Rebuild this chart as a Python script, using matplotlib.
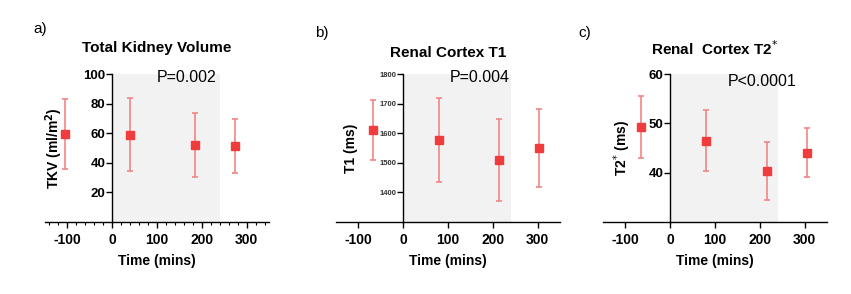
import matplotlib.pyplot as plt
from matplotlib.ticker import MultipleLocator

plt.rcParams['font.family'] = ['Liberation Sans', 'DejaVu Sans']
plt.rcParams['axes.unicode_minus'] = False

# panel a: total kidney volume
tkv_time = [-105, 40, 185, 275]
tkv_mean = [59.3, 59.0, 52.0, 51.3]
tkv_low = [35.6, 34.5, 30.7, 33.4]
tkv_high = [83.0, 83.7, 73.6, 69.6]

# panel b: renal cortex T1
t1_time = [-68, 79, 214, 304]
t1_mean = [1610, 1578, 1510, 1551]
t1_low = [1508, 1436, 1372, 1419]
t1_high = [1713, 1720, 1649, 1683]

# panel c: renal cortex T2*
t2_time = [-65, 81, 216, 306]
t2_mean = [49.3, 46.5, 40.4, 44.0]
t2_low = [43.0, 40.4, 34.5, 39.2]
t2_high = [55.6, 52.8, 46.2, 49.0]

panels = [
    dict(letter='a)', title='Total Kidney Volume', ylabel='TKV (ml/m$^\\mathbf{2}$)',
         pval='P=0.002', x=tkv_time, m=tkv_mean, lo=tkv_low, hi=tkv_high,
         ylim=(0, 100), yticks=[20, 40, 60, 80, 100], ytick_size=9.5, minor=True),
    dict(letter='b)', title='Renal Cortex T1', ylabel='T1 (ms)',
         pval='P=0.004', x=t1_time, m=t1_mean, lo=t1_low, hi=t1_high,
         ylim=(1300, 1800), yticks=[1400, 1500, 1600, 1700, 1800], ytick_size=5.5, minor=False),
    dict(letter='c)', title='Renal  Cortex T2$^{*}$', ylabel='T2$^{*}$ (ms)',
         pval='P<0.0001', x=t2_time, m=t2_mean, lo=t2_low, hi=t2_high,
         ylim=(30, 60), yticks=[40, 50, 60], ytick_size=9.5, minor=False),
]

lefts = [45 / 851, 336 / 851, 603 / 851]
letter_x = [33 / 851, 315 / 851, 578 / 851]
letter_y = [1 - 29 / 294, 1 - 33 / 294, 1 - 33 / 294]
ylabel_x = [0.09, 0.10, 0.135]
title_pad = [16, 12, 14]
pval_pos = [(0.5, 1.03), (0.507, 1.03), (0.558, 1.0)]

red = '#f03c3c'
err_red = '#f08585'

fig = plt.figure(figsize=(8.51, 2.94), dpi=100)

for i, p in enumerate(panels):
    ax = fig.add_axes([lefts[i], 72 / 294, 224 / 851, 148 / 294])
    ax.axvspan(0, 240, ymin=0, ymax=1, color='#f2f2f2', zorder=0, lw=0)
    yerr = [[m - lo for m, lo in zip(p['m'], p['lo'])],
            [hi - m for m, hi in zip(p['m'], p['hi'])]]
    ax.errorbar(p['x'], p['m'], yerr=yerr, fmt='none', ecolor=err_red,
                elinewidth=1.2, capsize=2.5, capthick=1.2, zorder=2)
    ax.plot(p['x'], p['m'], 's', color=red, ms=5.5, zorder=3)

    ax.set_xlim(-150, 350)
    ax.set_ylim(*p['ylim'])
    ax.set_xticks([-100, 0, 100, 200, 300])
    ax.set_yticks(p['yticks'])
    if p['minor']:
        ax.xaxis.set_minor_locator(MultipleLocator(20))
        ax.tick_params(axis='x', which='minor', length=2, width=0.8)

    for s in ['top', 'right']:
        ax.spines[s].set_visible(False)
    ax.spines['left'].set_position(('data', 0))
    ax.spines['left'].set_linewidth(1.0)
    ax.spines['bottom'].set_linewidth(1.0)
    ax.tick_params(axis='x', which='major', length=4, width=1.0, labelsize=10, pad=4)
    ax.tick_params(axis='y', length=4, width=1.0, labelsize=p['ytick_size'], pad=1)
    for lab in ax.get_xticklabels() + ax.get_yticklabels():
        lab.set_fontweight('bold')
    if p['ytick_size'] < 8:
        for lab in ax.get_yticklabels():
            lab.set_color('#333333')

    ax.set_xlabel('Time (mins)', fontsize=10, fontweight='bold', labelpad=5)
    ax.set_ylabel(p['ylabel'], fontsize=10, fontweight='bold')
    ax.yaxis.set_label_coords(ylabel_x[i], 0.5)
    ax.set_title(p['title'], fontsize=11, fontweight='bold', pad=title_pad[i])
    ax.text(pval_pos[i][0], pval_pos[i][1], p['pval'], transform=ax.transAxes,
            fontsize=11.5, ha='left', va='top')
    fig.text(letter_x[i], letter_y[i], p['letter'], fontsize=11, ha='left', va='center')

fig.savefig('out.png', dpi=100)
